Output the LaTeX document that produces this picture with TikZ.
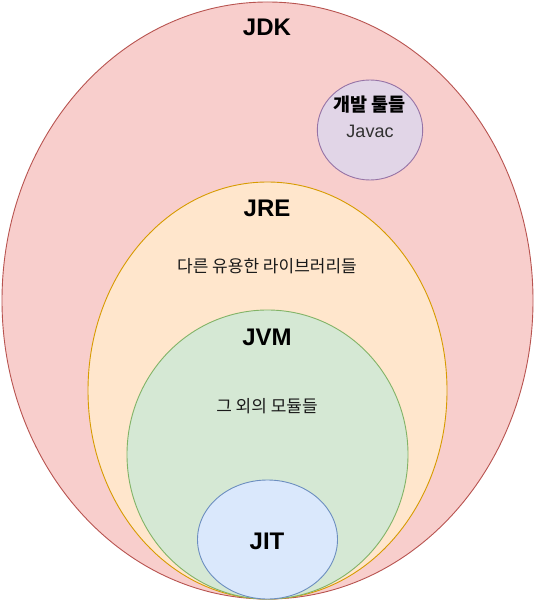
\documentclass[tikz,border=0pt]{standalone}
\usepackage{fontspec}
\setmainfont{Liberation Sans}
\newfontfamily\kr{Noto Sans CJK KR}
\definecolor{jdkfill}{HTML}{F8CECC}\definecolor{jdkline}{HTML}{B85450}
\definecolor{jrefill}{HTML}{FFE6CC}\definecolor{jreline}{HTML}{D79B00}
\definecolor{jvmfill}{HTML}{D5E8D4}\definecolor{jvmline}{HTML}{82B366}
\definecolor{jitfill}{HTML}{DAE8FC}\definecolor{jitline}{HTML}{6C8EBF}
\definecolor{devfill}{HTML}{E1D5E7}\definecolor{devline}{HTML}{9673A6}
\definecolor{txt}{HTML}{1A1A1A}
\begin{document}
\begin{tikzpicture}[x=1pt,y=-1pt,
  blob/.style={line width=0.9pt},
  bigtitle/.style={font=\fontsize{24}{28}\selectfont\bfseries, text=black, inner sep=0pt},
  krtext/.style={font=\kr\fontsize{17}{20}\selectfont, text=txt, inner sep=0pt},
  smalltext/.style={font=\fontsize{18}{21}\selectfont, text=txt!90, inner sep=0pt}]
\useasboundingbox (0,0) rectangle (535,601);
\fill[white] (0,0) rectangle (535,601);
\draw[blob, fill=jdkfill, draw=jdkline] (267.5,300.5) ellipse [x radius=265.5, y radius=298.5];
\draw[blob, fill=devfill, draw=devline] (370,130) ellipse [x radius=52.7, y radius=50];
\draw[blob, fill=jrefill, draw=jreline] (267.5,390.5) ellipse [x radius=179.5, y radius=208.5];
\draw[blob, fill=jvmfill, draw=jvmline] (267.5,454.5) ellipse [x radius=140.5, y radius=144.5];
\draw[blob, fill=jitfill, draw=jitline] (267.5,539.5) ellipse [x radius=70, y radius=59.5];
\node[bigtitle] (jdk) at (267,27) {JDK};
\node[krtext, font=\kr\fontsize{18.5}{22}\selectfont\bfseries, text=black] (dev) at (369.5,105) {개발 툴들};
\node[smalltext] (javac) at (370,131) {Javac};
\node[bigtitle] (jre) at (267,208) {JRE};
\node[krtext] (lib) at (267,266) {다른 유용한 라이브러리들};
\node[bigtitle] (jvm) at (267,337) {JVM};
\node[krtext] (mod) at (267,406) {그 외의 모듈들};
\node[bigtitle] (jit) at (267,541) {JIT};
\end{tikzpicture}
\end{document}
